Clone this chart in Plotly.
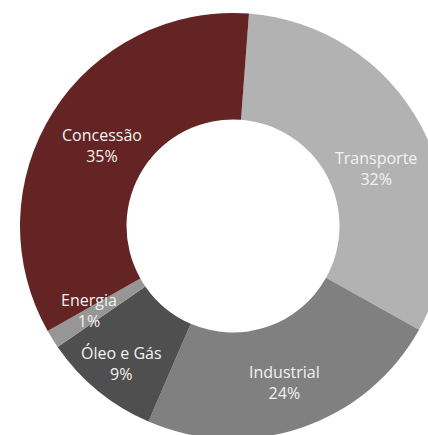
import math
import plotly.graph_objects as go

labels = ["Transporte", "Industrial", "Óleo e Gás", "Energia", "Concessão"]
shares = [31.9, 23.4, 8.9, 1.4, 34.4]
shown_pct = ["32%", "24%", "9%", "1%", "35%"]
colors = ["#b2b2b2", "#808080", "#4f4f4f", "#969696", "#632423"]

# label placement (style): radial distance as fraction of outer radius, angular nudge in degrees
label_r = [0.723, 0.775, 0.83, 0.785, 0.72]
label_da = [6.2, 0.6, -0.5, 1.8, -0.8]

W, H = 466, 452
CX, CY, R = 233, 226, 213
ROT = 4.3

fig = go.Figure(go.Pie(
    labels=labels,
    values=shares,
    textinfo="none",
    hole=0.5,
    sort=False,
    direction="clockwise",
    rotation=ROT,
    marker=dict(colors=colors, line=dict(width=0)),
    domain=dict(x=[(CX - R) / W, (CX + R) / W], y=[(H - CY - R) / H, (H - CY + R) / H]),
    showlegend=False,
    hoverinfo="label+percent",
))

total = sum(shares)
cum = 0.0
for lab, val, pct, rf, da in zip(labels, shares, shown_pct, label_r, label_da):
    mid = ROT + (cum + val / 2) / total * 360 + da
    cum += val
    a = math.radians(mid)
    px = CX + rf * R * math.sin(a)
    py = CY - rf * R * math.cos(a)
    fig.add_annotation(
        x=px / W, y=1 - py / H, xref="paper", yref="paper",
        text=f"{lab}<br>{pct}", showarrow=False,
        xanchor="center", yanchor="middle", align="center",
        font=dict(family="Open Sans", size=16, color="#f2f2f2"),
    )

fig.update_layout(
    width=W, height=H,
    margin=dict(l=0, r=0, t=0, b=0),
    paper_bgcolor="white",
)
fig.write_html(
    "out.html",
    config={"displayModeBar": False},
    post_script="document.body.style.margin='0';document.body.style.overflow='hidden';document.documentElement.style.overflow='hidden';",
)
